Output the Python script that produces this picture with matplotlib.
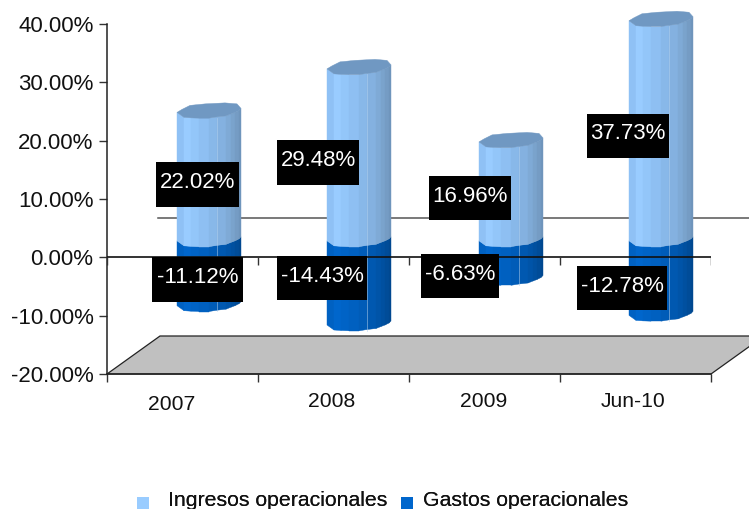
import matplotlib
matplotlib.use("Agg")
import matplotlib.pyplot as plt
from matplotlib.patches import Patch, Rectangle
from matplotlib.legend_handler import HandlerPatch
from matplotlib.transforms import ScaledTranslation

plt.rcParams['font.family'] = ['Liberation Sans', 'DejaVu Sans']

categories = ['2007', '2008', '2009', 'Jun-10']
ingresos = [22.02, 29.48, 16.96, 37.73]
gastos = [-11.12, -14.43, -6.63, -12.78]
series_names = ['Ingresos operacionales', 'Gastos operacionales']
y_ticks = [40, 30, 20, 10, 0, -10, -20]

W, H = 749, 510
FS = 16
fig = plt.figure(figsize=(W / 100, H / 100), dpi=100, facecolor='white')
L, R, T, B = 107, 711, 25, 375
ax = fig.add_axes([L / W, 1 - B / H, (R - L) / W, (B - T) / H])
ax.set_xlim(0, 4)
ax.set_ylim(-20, 40)
ax.patch.set_visible(False)
PX = 4 / (R - L)
PY = 60 / (B - T)


def xd(px):
    return (px - L) * PX


def yd(py):
    return (B - py) * PY - 20


for s in ['top', 'right']:
    ax.spines[s].set_visible(False)
for s in ['left', 'bottom']:
    ax.spines[s].set_color('#222222')
    ax.spines[s].set_linewidth(1.1)
ax.set_yticks(y_ticks)
ax.set_yticklabels([f'{v:.2f}%' for v in y_ticks], fontsize=FS, color='#111111')
ax.set_xticks(range(5))
ax.set_xticklabels([])
ax.tick_params(axis='y', length=5.8, width=1, color='#333333', pad=4)
ax.tick_params(axis='x', length=5.8, width=1, color='#333333')
for lab in ax.get_yticklabels():
    lab.set_transform(lab.get_transform() + ScaledTranslation(0, 1 / 100, fig.dpi_scale_trans))

# floor and back wall line
dx, dy = 53 * PX, 38 * PY
xr = xd(749)
ax.fill([0, dx, xr + 1, 4 + dx, 4], [-20, -20 + dy, -20 + dy, -20 + dy, -20],
        fc='#C0C0C0', ec='#222222', lw=0.9, clip_on=False, zorder=1)
ax.plot([xd(158), xr], [yd(219), yd(219)], color='#555555', lw=1.1, clip_on=False, zorder=1)

# zero axis with ticks
ax.axhline(0, color='#111111', lw=1.2, zorder=6)
ax.vlines(range(5), -8 * PY, 0, color='#333333', lw=1, zorder=6)

edges = [0, 7, 14, 22, 32, 40, 49, 54, 58, 62, 64]
front = [-5.5, -0.5, 0, 0.3, 0.3, -1, -2, -4, -5.5, -7.5, -9.5]
back = [(64, -9.5), (60, -14), (48, -15), (28, -14), (13, -12.5), (5, -8.5), (0, -5.5)]
light = ['#8FC1F5', '#99CCFF', '#93C6F9', '#8EBFF2', '#88B8E9', '#84B1E0', '#7FAAD6', '#7AA3CC', '#759CC4', '#6F95BC']
dark = ['#0061C2', '#0066CC', '#0063C6', '#0060C0', '#005CB8', '#0058B0', '#0054A8', '#0050A0', '#004C98', '#004890']
top_col = '#7098C2'
left_px = [177, 327, 479, 629]
base = 11 * PY


def cyl(i, v0, v1, colors, cap=None):
    x0 = xd(left_px[i])
    for j, c in enumerate(colors):
        xs = [x0 + edges[j] * PX, x0 + edges[j + 1] * PX, x0 + edges[j + 1] * PX, x0 + edges[j] * PX]
        ys = [v0 + base - front[j] * PY, v0 + base - front[j + 1] * PY,
              v1 + base - front[j + 1] * PY, v1 + base - front[j] * PY]
        ax.fill(xs, ys, fc=c, ec=c, lw=0.3, clip_on=False, zorder=3)
    if cap:
        xs = [x0 + e * PX for e in edges] + [x0 + b[0] * PX for b in back]
        ys = [v1 + base - f * PY for f in front] + [v1 + base - b[1] * PY for b in back]
        ax.fill(xs, ys, fc=cap, ec=cap, lw=0.3, clip_on=False, zorder=3)


for i in range(4):
    cyl(i, gastos[i], 0, dark)
    cyl(i, 0, ingresos[i], light, cap=top_col)
    x0 = xd(left_px[i])
    ax.plot([x0 + 40 * PX] * 2, [gastos[i] + base, ingresos[i] + base], color='#B5D3F0', lw=0.6,
            alpha=0.6, zorder=4, clip_on=False)

# data label boxes in pixels: left, right, top, bottom
pos_boxes = [(156, 239, 163, 208), (277, 359, 141, 186), (429, 511, 177, 221), (587, 669, 115, 159)]
neg_boxes = [(152, 243, 258, 303), (277, 367, 257, 301), (421, 499, 255, 299), (577, 667, 267, 311)]
for i in range(4):
    for val, (x0, x1, y0, y1) in ((ingresos[i], pos_boxes[i]), (gastos[i], neg_boxes[i])):
        ax.add_patch(Rectangle((xd(x0), yd(y1)), xd(x1) - xd(x0), yd(y0) - yd(y1), fc='black', ec='none',
                               zorder=9, clip_on=False))
        ax.text(xd((x0 + x1) / 2), yd((y0 + y1) / 2 - 3), f'{val:.2f}%', ha='center', va='center',
                fontsize=FS, color='white', zorder=10, clip_on=False)

# category labels
label_px = [(172, 404), (332, 401.5), (484, 401.5), (633, 401.5)]
for c, (lx, ly) in zip(categories, label_px):
    ax.text(xd(lx), yd(ly), c, ha='center', va='center', fontsize=15.2, color='#111111', clip_on=False)


def square(legend, orig_handle, xdescent, ydescent, width, height, fontsize):
    return Rectangle((0, -3.0), 8.6, 8.8)


# legend
for name, col, xpos, pad in [(series_names[0], '#99CCFF', 137, 0.89), (series_names[1], '#0066CC', 401, 0.48)]:
    leg = fig.legend(handles=[Patch(fc=col, ec=col, lw=0, label=name)], loc='center left',
                     bbox_to_anchor=(xpos / W, 1 - 500.5 / H), frameon=False, fontsize=15.3,
                     borderpad=0, borderaxespad=0, handlelength=0.56, handletextpad=pad,
                     labelcolor='#111111', handler_map={Patch: HandlerPatch(patch_func=square)})
    fig.add_artist(leg)

fig.savefig('out.png', dpi=100, facecolor='white')
